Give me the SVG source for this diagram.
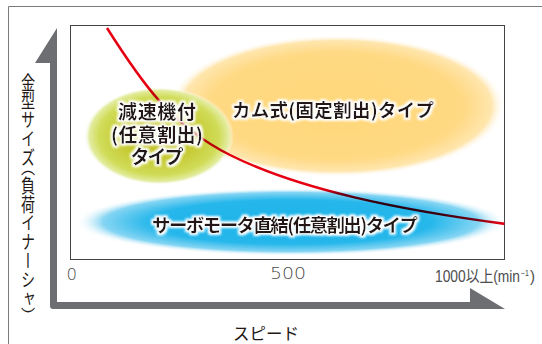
<svg xmlns="http://www.w3.org/2000/svg" width="542" height="344" viewBox="0 0 542 344">
<style>
.lbl{font-family:"Noto Sans CJK JP","Liberation Sans",sans-serif;font-weight:700;fill:#231815;text-anchor:middle;filter:url(#glow)}
.num{font-family:"DejaVu Sans","Liberation Sans",sans-serif;font-weight:300;fill:#4d4d4d}
.num2{font-family:"Liberation Sans","Noto Sans CJK JP",sans-serif;fill:#4d4d4d}
.axis{font-family:"Noto Sans CJK JP",sans-serif;font-weight:400;fill:#231815}
</style>
<defs>
<radialGradient id="gOr">
<stop offset="0" stop-color="#ffd77a"/>
<stop offset="0.75" stop-color="#ffd983"/>
<stop offset="0.92" stop-color="#ffe6ae"/>
<stop offset="1" stop-color="#ffffff" stop-opacity="0"/>
</radialGradient>
<radialGradient id="gGr">
<stop offset="0" stop-color="#c2bd28"/>
<stop offset="0.5" stop-color="#c6ca34"/>
<stop offset="0.8" stop-color="#d0dc58"/>
<stop offset="0.93" stop-color="#e3eca0"/>
<stop offset="1" stop-color="#ffffff" stop-opacity="0"/>
</radialGradient>
<radialGradient id="gBl">
<stop offset="0" stop-color="#1cb4e9"/>
<stop offset="0.65" stop-color="#26b7eb"/>
<stop offset="0.87" stop-color="#85d5f3"/>
<stop offset="1" stop-color="#ffffff" stop-opacity="0"/>
</radialGradient>
<clipPath id="box"><rect x="70.5" y="25.5" width="434" height="234"/></clipPath>
<filter id="glow" x="-10%" y="-30%" width="120%" height="160%">
<feMorphology in="SourceAlpha" operator="dilate" radius="2" result="d"/>
<feGaussianBlur in="d" stdDeviation="0.9" result="b"/>
<feFlood flood-color="#ffffff"/>
<feComposite in2="b" operator="in" result="w"/>
<feMerge><feMergeNode in="w"/><feMergeNode in="SourceGraphic"/></feMerge>
</filter>
</defs>
<path d="M8.5,344 V6.5 H542" fill="none" stroke="#7a7a7a" stroke-width="1"/>
<rect x="70.5" y="25.5" width="434" height="234" fill="#ffffff" stroke="#444444" stroke-width="1"/>
<g clip-path="url(#box)">
<g id="cam"><ellipse cx="337" cy="106" rx="168" ry="71" fill="url(#gOr)"/></g>
<g id="reducer"><ellipse cx="159" cy="136" rx="75" ry="49" fill="url(#gGr)"/></g>
<g id="servo"><ellipse cx="291" cy="222" rx="216" ry="34" fill="url(#gBl)"/></g>
<g id="connectors"><path d="M107,28 C140,80 170,125 230,155 C300,190 400,210 506,224" fill="none" stroke="#e50012" stroke-width="2.5" style="mix-blend-mode:multiply"/></g>
</g>
<text class="lbl" x="157" y="119" font-size="19" textLength="78">減速機付</text>
<text class="lbl" x="157" y="141.5" font-size="19" textLength="92">(任意割出)</text>
<text class="lbl" x="157" y="164" font-size="19" textLength="53">タイプ</text>
<text class="lbl" x="333" y="117" font-size="18.5" textLength="202">カム式(固定割出)タイプ</text>
<text class="lbl" x="285" y="232" font-size="18.5" textLength="266">サーボモータ直結(任意割出)タイプ</text>
<g id="axes">
<path d="M57,28 L57,302 H470 V288 L505,309 H53 Q50,309 50,306 V63 H35 Z" fill="#6d6e71"/>
</g>
<text class="num" x="66.5" y="280" font-size="15" textLength="10.5" lengthAdjust="spacingAndGlyphs">0</text>
<text class="num" x="270" y="279" font-size="15" textLength="36" lengthAdjust="spacingAndGlyphs">500</text>
<text class="num2" x="435" y="282" font-size="16" textLength="85" lengthAdjust="spacingAndGlyphs">1000以上(min</text>
<text class="num2" x="521" y="275.5" font-size="8.5" textLength="8" lengthAdjust="spacingAndGlyphs">−1</text>
<text class="num2" x="530" y="282" font-size="16" textLength="5" lengthAdjust="spacingAndGlyphs">)</text>
<text class="axis" x="266" y="340" font-size="16.5" text-anchor="middle">スピード</text>
<text class="axis" transform="translate(28 0) scale(0.75 1)" x="0" y="73" font-size="18.8" style="writing-mode:vertical-rl;font-feature-settings:'vhal'">金型サイズ（負荷イナーシャ）</text>
</svg>
